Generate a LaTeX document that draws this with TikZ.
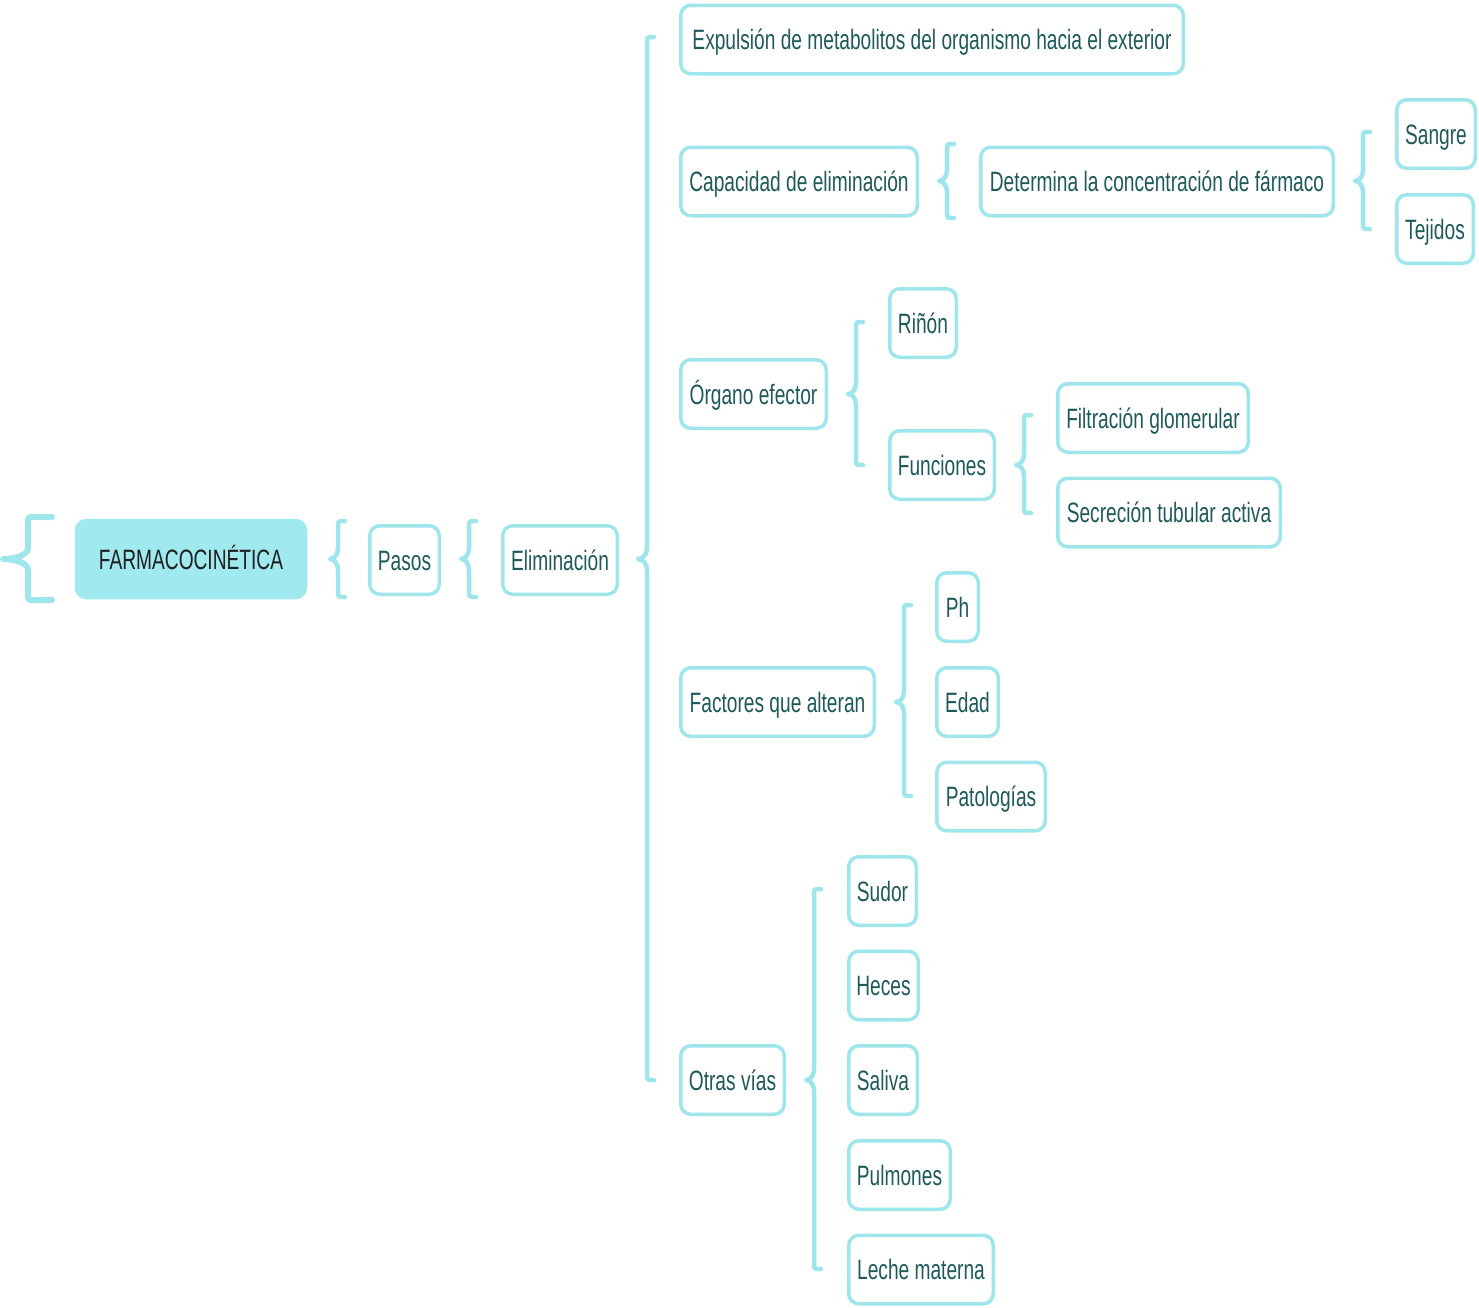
\documentclass[tikz,border=0pt]{standalone}
\usepackage{fontspec}
\setmainfont{Liberation Sans}[FakeStretch=0.684]
\definecolor{cyanline}{HTML}{9FE6EC}
\definecolor{cyanfill}{HTML}{A0E9EF}
\definecolor{tealtext}{HTML}{1F5A5B}
\tikzset{
  box/.style={draw=cyanline, line width=3.5pt, rounded corners=10pt, fill=white,
    text=tealtext, font=\fontsize{28}{32}\selectfont, minimum height=68.5pt,
    text height=26pt, text depth=6pt, inner xsep=0pt, align=center},
  mainbox/.style={box, fill=cyanfill, draw=cyanfill, text=black!88, minimum height=77pt},
  bracestyle/.style={draw=cyanline, line width=4.5pt, line cap=round, line join=round},
}
% #1 x of vertical bar, #2 top y, #3 bottom y, #4 middle y, #5 tick length, #6 cusp depth
\newcommand{\mybrace}[6]{%
  \draw[bracestyle] (#1+#5,#2) -- (#1+6,#2) .. controls (#1,#2) .. (#1,#2+6)
    -- (#1,#4-11) .. controls (#1,#4-4) and (#1-#6/2,#4) .. (#1-#6,#4)
    .. controls (#1-#6/2,#4) and (#1,#4+4) .. (#1,#4+11)
    -- (#1,#3-6) .. controls (#1,#3) .. (#1+6,#3) -- (#1+#5,#3);}
\begin{document}
\begin{tikzpicture}[x=1pt,y=-1pt]
\useasboundingbox (0,0) rectangle (1479,1307);
% braces
\begin{scope}[bracestyle/.append style={line width=6pt}]
\mybrace{28}{517}{600}{559}{24}{25}
\end{scope}
\mybrace{338}{521}{597}{559}{7}{8}
\mybrace{469}{521}{597}{559}{7}{8}
\mybrace{647}{37}{1080}{559}{7}{9}
\mybrace{947}{144}{218}{181}{7}{8}
\mybrace{1363}{132}{229}{181}{7}{8}
\mybrace{856}{322}{465}{394}{7}{8}
\mybrace{1024}{415}{513}{465}{7}{8}
\mybrace{904}{605}{796}{702}{7}{8}
\mybrace{814}{889}{1269}{1080}{7}{8}
% nodes
\node[mainbox, minimum width=229pt] (farma) at (191,559) {FARMACOCINÉTICA};
\node[box, minimum width=69.5pt] (pasos) at (404.5,560) {Pasos};
\node[box, minimum width=114.5pt] (elim) at (560,560) {Eliminación};
\node[box, minimum width=502.5pt] (expul) at (932,39.5) {Expulsión de metabolitos del organismo hacia el exterior};
\node[box, minimum width=236.5pt] (capac) at (799,181.5) {Capacidad de eliminación};
\node[box, minimum width=352.5pt] (determ) at (1157,181.5) {Determina la concentración de fármaco};
\node[box, minimum width=78.5pt] (sangre) at (1436,134) {Sangre};
\node[box, minimum width=76.5pt] (tejidos) at (1435,229) {Tejidos};
\node[box, minimum width=145.5pt] (organo) at (753.5,394) {Órgano efector};
\node[box, minimum width=66.5pt] (rinon) at (923,323) {Riñón};
\node[box, minimum width=104.5pt] (funciones) at (942,465) {Funciones};
\node[box, minimum width=190.5pt] (filtr) at (1153,418) {Filtración glomerular};
\node[box, minimum width=222.5pt] (secr) at (1169,512.5) {Secreción tubular activa};
\node[box, minimum width=193.5pt] (factores) at (777.5,702) {Factores que alteran};
\node[box, minimum width=41.5pt] (ph) at (957.5,607) {Ph};
\node[box, minimum width=61.5pt] (edad) at (967.5,702) {Edad};
\node[box, minimum width=108.5pt] (patol) at (991,796.5) {Patologías};
\node[box, minimum width=103.5pt] (otras) at (732.5,1080) {Otras vías};
\node[box, minimum width=67.5pt] (sudor) at (882.5,891) {Sudor};
\node[box, minimum width=69.5pt] (heces) at (883.5,985.5) {Heces};
\node[box, minimum width=68.5pt] (saliva) at (883,1080) {Saliva};
\node[box, minimum width=101.5pt] (pulmones) at (899.5,1175) {Pulmones};
\node[box, minimum width=144.5pt] (leche) at (921,1269.5) {Leche materna};
\end{tikzpicture}
\end{document}
